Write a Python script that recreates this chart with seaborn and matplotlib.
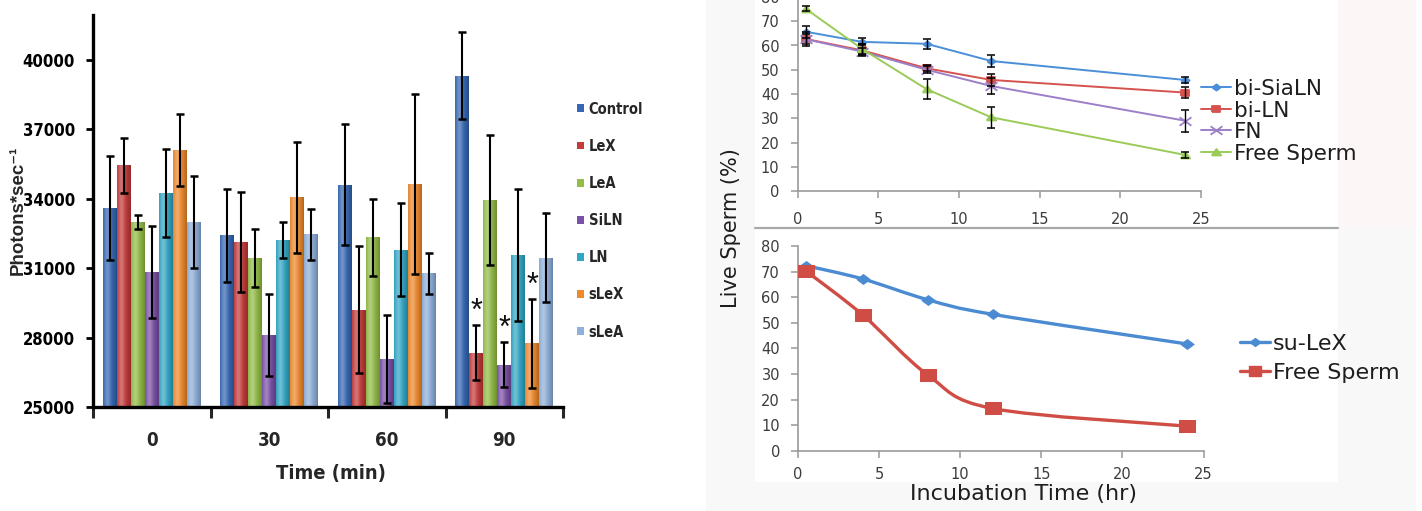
import numpy as np
import pandas as pd
import matplotlib
matplotlib.use("Agg")
import matplotlib.pyplot as plt
import seaborn as sns
from matplotlib import font_manager as fm
from matplotlib.path import Path
from matplotlib.patches import PathPatch, Rectangle, Patch
from matplotlib.lines import Line2D
from matplotlib.colors import to_rgb

# ---------------- bioluminescence bar chart ----------------
times_min = ["0", "30", "60", "90"]
compounds = ["Control", "LeX", "LeA", "SiLN", "LN", "sLeX", "sLeA"]
bar_colors = ["#3567b4", "#c53a3a", "#93bd45", "#7a50a8", "#30a7c6", "#f0892a", "#8fb0dc"]

control_mean = [33600, 32420, 34620, 39330]
lex_mean = [35450, 32130, 29200, 27350]
lea_mean = [33000, 31450, 32330, 33960]
siln_mean = [30840, 28120, 27070, 26830]
ln_mean = [34250, 32230, 31810, 31580]
slex_mean = [36120, 34060, 34650, 27750]
slea_mean = [32990, 32460, 30780, 31450]

control_err = [2250, 2000, 2600, 1880]
lex_err = [1200, 2150, 2750, 1190]
lea_err = [300, 1250, 1670, 2800]
siln_err = [2000, 1780, 1900, 970]
ln_err = [1900, 770, 1990, 2840]
slex_err = [1550, 2400, 3900, 1930]
slea_err = [2000, 1100, 880, 1920]

# significant differences marked with an asterisk
star_marks = [("90", "LeX"), ("90", "SiLN"), ("90", "sLeX")]

# ---------------- viability line charts ----------------
hours = [0.5, 4, 8, 12, 24]
top_names = ["bi-SiaLN", "bi-LN", "FN", "Free Sperm"]
top_colors = ["#4a8fd8", "#d5524e", "#9d7fc9", "#9acb58"]
bi_sialn = [65.7, 61.5, 60.7, 53.6, 45.8]
bi_ln = [62.7, 58.0, 50.6, 45.8, 40.6]
fn = [62.6, 57.5, 50.0, 43.3, 29.0]
free_top = [75.2, 58.6, 42.0, 30.4, 14.9]
bi_sialn_err = [2.5, 1.5, 2.0, 2.5, 1.4]
bi_ln_err = [3.0, 2.5, 1.3, 2.4, 2.3]
fn_err = [2.0, 1.5, 1.5, 3.1, 4.6]
free_top_err = [1.0, 2.0, 4.0, 4.3, 1.3]

bottom_names = ["su-LeX", "Free Sperm"]
bottom_colors = ["#4a8bd2", "#cf4d45"]
su_lex = [72.3, 67.1, 59.0, 53.3, 41.7]
free_bottom = [70.2, 53.0, 29.6, 16.5, 9.6]

# ---------------- styling ----------------
sns.set_theme(style="white")
plt.rcParams["font.family"] = ["DejaVu Sans"]

available = {f.name for f in fm.fontManager.ttflist}
if "Liberation Sans Narrow" in available:
    _narrow = fm.FontProperties(family="Liberation Sans Narrow", weight="bold")
else:
    _narrow = fm.FontProperties(family="DejaVu Sans", stretch="condensed", weight="bold")


def nfont(size):
    p = _narrow.copy()
    p.set_size(size)
    return p


W, H = 1422, 511
fig = plt.figure(figsize=(W / 100, H / 100), dpi=100)


def box(l, t, r, b):
    return [l / W, 1 - b / H, (r - l) / W, (b - t) / H]


def fig_rect(l, t, r, b, color):
    fig.patches.append(Rectangle((l / W, 1 - b / H), (r - l) / W, (b - t) / H,
                                 transform=fig.transFigure, color=color, zorder=-10, lw=0))


# soft panel backgrounds on the right-hand side
fig_rect(706, 0, 1416, 511, "#f8f8f8")
fig_rect(1338, 0, 1416, 228, "#fdf6f6")
fig_rect(755, 0, 1338, 227, "#ffffff")
fig_rect(755, 229, 1338, 482, "#ffffff")
fig.lines.append(Line2D([755 / W, 1338 / W], [1 - 228 / H] * 2, color="#a9a9a9", lw=1.6,
                        transform=fig.transFigure))

# ================= bar chart =================
ax1 = fig.add_axes(box(93, 15, 563, 407))
means = [control_mean, lex_mean, lea_mean, siln_mean, ln_mean, slex_mean, slea_mean]
errs = [control_err, lex_err, lea_err, siln_err, ln_err, slex_err, slea_err]
df = pd.DataFrame([
    {"time": t, "compound": c, "value": means[ci][ti]}
    for ci, c in enumerate(compounds) for ti, t in enumerate(times_min)
])
sns.barplot(data=df, x="time", y="value", hue="compound", order=times_min,
            hue_order=compounds, palette=bar_colors, width=0.83, errorbar=None,
            saturation=1, legend=False, ax=ax1, linewidth=0)

ymin, ymax = 25000, 41950


def shade(base, n=64):
    base = np.array(to_rgb(base))
    t = np.linspace(0, 1, n)
    light = 0.30 * np.exp(-((t - 0.32) / 0.24) ** 2)
    dark = 0.26 * t ** 3 + 0.06 * (1 - t) ** 6
    rgb = base[None, :] * (1 - light[:, None]) + light[:, None]
    rgb = rgb * (1 - dark[:, None])
    return rgb[None, :, :]


bar_containers = list(ax1.containers)
bar_lookup = {}
for hi, cont in enumerate(bar_containers):
    for ti, bar in enumerate(cont):
        x0, w = bar.get_x(), bar.get_width()
        top = bar.get_y() + bar.get_height()
        img = ax1.imshow(shade(bar_colors[hi]), extent=[x0, x0 + w, ymin, top],
                         aspect="auto", zorder=2, interpolation="bilinear")
        img.set_clip_path(bar)
        cx = x0 + w / 2
        bar_lookup[(times_min[ti], compounds[hi])] = cx
        ax1.errorbar(cx, means[hi][ti], yerr=errs[hi][ti], fmt="none", ecolor="black",
                     elinewidth=1.5, capsize=2.6, capthick=1.8, zorder=4)

ax1.set_ylim(ymin, ymax)
ax1.set_xlim(-0.5, 3.5)

for (t, c) in star_marks:
    ti, ci = times_min.index(t), compounds.index(c)
    ax1.annotate("*", (bar_lookup[(t, c)], means[ci][ti] + errs[ci][ti]),
                 xytext=(0, 3.5), textcoords="offset points", ha="center", va="baseline",
                 fontsize=22, family=["Liberation Sans", "DejaVu Sans"], color="#111111",
                 zorder=5)

ax1.set_yticks(np.arange(25000, 40001, 3000))
ax1.set_yticklabels([str(v) for v in range(25000, 40001, 3000)])
ax1.set_xticks(range(4))
ax1.set_xticklabels(times_min)
ax1.set_xticks([-0.5, 0.5, 1.5, 2.5, 3.5], minor=True)
ax1.tick_params(axis="y", direction="out", length=5, width=2, pad=8, colors="black", left=True)
ax1.tick_params(axis="x", which="major", length=0, pad=17)
ax1.tick_params(axis="x", which="minor", direction="out", length=8, width=2.2, bottom=True)
for lbl in ax1.get_yticklabels():
    lbl.set_fontproperties(nfont(12))
for lbl in ax1.get_xticklabels():
    lbl.set_fontproperties(nfont(13.5))
sns.despine(ax=ax1)
for s in ("left", "bottom"):
    ax1.spines[s].set_color("black")
    ax1.spines[s].set_linewidth(2.4)
ax1.set_xlabel("")
ax1.set_ylabel("")
ax1.set_facecolor("none")

fig.text(18 / W, 1 - 210 / H, "Photons*sec⁻¹", rotation=90, ha="center", va="center",
         fontsize=13.5, fontweight="bold", family=["Liberation Sans", "DejaVu Sans"])
fig.text(331 / W, 1 - 473 / H, "Time (min)", ha="center", va="center",
         fontproperties=nfont(14.5))

handles = [Patch(facecolor=c, edgecolor="none") for c in bar_colors]
ax1.legend(handles, compounds, loc="upper left", bbox_to_anchor=(577 / W, 1 - 101.5 / H),
           bbox_transform=fig.transFigure, frameon=False, handlelength=0.45,
           handleheight=0.45, handletextpad=0.35, labelspacing=1.52, prop=nfont(10.5),
           borderaxespad=0, borderpad=0)

# ================= viability: glycan-coated =================
diamond_w = [(-1.35, 0), (0, 1), (1.35, 0), (0, -1), (-1.35, 0)]
square_w = [(-1.3, -1), (1.3, -1), (1.3, 1), (-1.3, 1), (-1.3, -1)]
tri_w = [(-1.35, -0.85), (1.35, -0.85), (0, 1), (-1.35, -0.85)]
cross_w = Path([(-1.4, -1), (1.4, 1), (-1.4, 1), (1.4, -1)],
               [Path.MOVETO, Path.LINETO, Path.MOVETO, Path.LINETO])

tick_color = "#3c3c3c"
axis_color = "#999999"


def style_right(ax, xpad, ypad):
    ax.set_xlim(0, 25)
    ax.set_ylim(0, 80)
    ax.set_xticks(range(0, 26, 5))
    ax.set_yticks(range(0, 81, 10))
    ax.tick_params(axis="both", direction="out", length=5, width=1.1, color=axis_color,
                   labelcolor=tick_color, labelsize=10.5, left=True, bottom=True)
    ax.tick_params(axis="x", pad=xpad)
    ax.tick_params(axis="y", pad=ypad)
    sns.despine(ax=ax)
    for s in ("left", "bottom"):
        ax.spines[s].set_color(axis_color)
        ax.spines[s].set_linewidth(1.2)
    ax.set_xlabel("")
    ax.set_ylabel("")
    ax.set_facecolor("none")


ax2 = fig.add_axes(box(797.5, -3, 1201, 191))
top_vals = [bi_sialn, bi_ln, fn, free_top]
top_errs = [bi_sialn_err, bi_ln_err, fn_err, free_top_err]
top_markers = [diamond_w, square_w, cross_w, tri_w]
top_msize = [6, 6.2, 8.5, 6.8]
for name, vals, col, mk, ms in zip(top_names, top_vals, top_colors, top_markers, top_msize):
    sns.lineplot(x=hours, y=vals, color=col, marker=mk, markersize=ms, lw=1.4,
                 markeredgecolor=col, markeredgewidth=1.3, label=name, ax=ax2, zorder=3)
for vals, e in zip(top_vals, top_errs):
    ax2.errorbar(hours, vals, yerr=e, fmt="none", ecolor="black", elinewidth=1.0,
                 capsize=3, capthick=1.1, zorder=4)
style_right(ax2, xpad=10, ypad=8)
ax2.legend(loc="upper left", bbox_to_anchor=(1201 / W, 1 - 79 / H),
           bbox_transform=fig.transFigure, frameon=False, fontsize=15.5,
           handlelength=1.4, handletextpad=0.12, labelspacing=0.07, borderpad=0,
           borderaxespad=0, labelcolor="#1e1e1e")

# ================= viability: su-LeX =================
ax3 = fig.add_axes(box(798, 246, 1203.5, 450.7))


def smooth_path(xs, ys):
    pts = np.column_stack([xs, ys]).astype(float)
    n = len(pts)
    verts = [pts[0]]
    codes = [Path.MOVETO]
    for i in range(n - 1):
        p0 = pts[i - 1] if i > 0 else pts[i]
        p1, p2 = pts[i], pts[i + 1]
        p3 = pts[i + 2] if i + 2 < n else pts[i + 1]
        verts += [p1 + (p2 - p0) / 6, p2 - (p3 - p1) / 6, p2]
        codes += [Path.CURVE4] * 3
    return Path(verts, codes)


bottom_vals = [su_lex, free_bottom]
bottom_markers = [diamond_w, square_w]
bottom_msize = [9.5, 11]
bottom_handles = []
for name, vals, col, mk, ms in zip(bottom_names, bottom_vals, bottom_colors,
                                   bottom_markers, bottom_msize):
    ax3.add_patch(PathPatch(smooth_path(hours, vals), fill=False, edgecolor=col, lw=2.4,
                            zorder=2, capstyle="round"))
    sns.lineplot(x=hours, y=vals, color=col, marker=mk, markersize=ms, linestyle="",
                 markeredgecolor=col, ax=ax3, zorder=3)
    bottom_handles.append(Line2D([], [], color=col, lw=2.4, marker=mk, markersize=ms * 0.8,
                                 markeredgecolor=col))
style_right(ax3, xpad=7, ypad=8)
ax3.legend(bottom_handles, bottom_names, loc="upper left",
           bbox_to_anchor=(1240 / W, 1 - 334 / H), bbox_transform=fig.transFigure,
           frameon=False, fontsize=16, handlelength=1.35, handletextpad=0.12,
           labelspacing=0.4, borderpad=0, borderaxespad=0, labelcolor="#1e1e1e")

fig.text(731 / W, 1 - 228 / H, "Live Sperm (%)", rotation=90, ha="center", va="center",
         fontsize=15, color="#1e1e1e")
fig.text(1023 / W, 1 - 494 / H, "Incubation Time (hr)", ha="center", va="center",
         fontsize=16, color="#1e1e1e")

fig.savefig("out.png", dpi=100)
